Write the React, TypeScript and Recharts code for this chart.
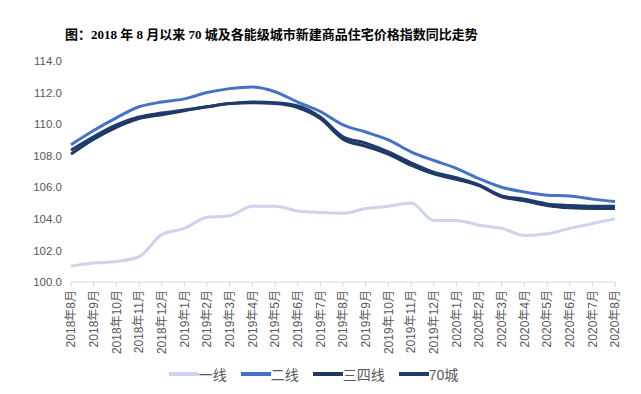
import React from "react";
import { Legend, Line, LineChart, XAxis, YAxis } from "recharts";

const months = [
  "2018年8月", "2018年9月", "2018年10月", "2018年11月", "2018年12月",
  "2019年1月", "2019年2月", "2019年3月", "2019年4月", "2019年5月",
  "2019年6月", "2019年7月", "2019年8月", "2019年9月", "2019年10月",
  "2019年11月", "2019年12月", "2020年1月", "2020年2月", "2020年3月",
  "2020年4月", "2020年5月", "2020年6月", "2020年7月", "2020年8月",
];

const tier1 = [
  101.0, 101.2, 101.3, 101.6, 103.0, 103.4, 104.1, 104.2, 104.8, 104.8,
  104.5, 104.4, 104.35, 104.65, 104.8, 105.0, 103.9, 103.9, 103.6, 103.4,
  102.95, 103.05, 103.4, 103.7, 104.0,
];

const tier2 = [
  108.7, 109.6, 110.4, 111.1, 111.4, 111.6, 112.0, 112.25, 112.35, 112.05,
  111.4, 110.8, 109.95, 109.5, 109.0, 108.25, 107.7, 107.2, 106.55, 106.0,
  105.7, 105.5, 105.45, 105.25, 105.1,
];

const tier34 = [
  108.1, 109.05, 109.8, 110.35, 110.6, 110.85, 111.1, 111.3, 111.35, 111.3,
  111.05, 110.35, 109.05, 108.6, 108.1, 107.4, 106.85, 106.5, 106.1, 105.4,
  105.15, 104.85, 104.7, 104.65, 104.65,
];

const city70 = [
  108.35, 109.2, 109.95, 110.45, 110.7, 110.9, 111.1, 111.3, 111.4, 111.35,
  111.15, 110.45, 109.2, 108.8, 108.25, 107.55, 106.95, 106.6, 106.15, 105.45,
  105.25, 104.95, 104.85, 104.8, 104.8,
];

const yTicks = [100, 102, 104, 106, 108, 110, 112, 114];

const series = [
  { key: "tier1", name: "一线", color: "#cdd3ee" },
  { key: "tier2", name: "二线", color: "#4472c4" },
  { key: "tier34", name: "三四线", color: "#203864" },
  { key: "city70", name: "70城", color: "#1f3a6e" },
];

const data = months.map((month, i) => ({
  month,
  tier1: tier1[i],
  tier2: tier2[i],
  tier34: tier34[i],
  city70: city70[i],
}));

const labelFont = "'Liberation Sans', Arial, 'Noto Sans CJK SC', sans-serif";

function MonthTick(props: any) {
  const { x, y, payload } = props;
  const half = payload.offset || 0;
  const last = payload.index === months.length - 1;
  return (
    <g>
      <line x1={x - half} y1={y - 8} x2={x - half} y2={y - 3} stroke="#d9d9d9" />
      {last && <line x1={x + half} y1={y - 8} x2={x + half} y2={y - 3} stroke="#d9d9d9" />}
      <text
        x={x}
        y={y}
        transform={`rotate(-90, ${x}, ${y})`}
        textAnchor="end"
        dy="0.35em"
        fontSize={12}
        fill="#595959"
        fontFamily={labelFont}
      >
        {payload.value}
      </text>
    </g>
  );
}

function LegendRow() {
  return (
    <div style={{ display: "flex", justifyContent: "center", alignItems: "center", gap: 14, paddingLeft: 12 }}>
      {series.map(s => (
        <div key={s.key} style={{ display: "flex", alignItems: "center" }}>
          <div style={{ width: 30, height: 3.5, background: s.color }} />
          <span style={{ color: "#595959", fontSize: 14, fontFamily: labelFont }}>{s.name}</span>
        </div>
      ))}
    </div>
  );
}

export default function App() {
  return (
    <div style={{ position: "relative", width: 641, height: 394, background: "#fff" }}>
      <style>{"body{margin:0}"}</style>
      <div
        style={{
          position: "absolute",
          left: 65,
          top: 24,
          fontFamily: "'Liberation Serif', 'Noto Sans CJK SC', serif",
          fontWeight: 700,
          fontSize: 13,
          color: "#000",
          whiteSpace: "nowrap",
          zIndex: 2,
        }}
      >
        图：2018 年 8 月以来 70 城及各能级城市新建商品住宅价格指数同比走势
      </div>
      <LineChart width={641} height={394} data={data} margin={{ top: 61, right: 26, bottom: 0, left: 0 }}>
        <XAxis
          dataKey="month"
          interval={0}
          height={82}
          tickLine={false}
          axisLine={{ stroke: "#d9d9d9" }}
          tick={<MonthTick />}
        />
        <YAxis
          width={71}
          domain={[100, 114]}
          ticks={yTicks}
          axisLine={false}
          tickLine={false}
          tickMargin={3}
          tickFormatter={(v: number) => v.toFixed(1)}
          tick={{ fontSize: 11.5, fill: "#595959", fontFamily: labelFont }}
        />
        <Legend verticalAlign="bottom" height={30} content={<LegendRow />} />
        {series.map(s => (
          <Line
            key={s.key}
            type="monotone"
            dataKey={s.key}
            name={s.name}
            stroke={s.color}
            strokeWidth={3}
            dot={false}
            isAnimationActive={false}
          />
        ))}
      </LineChart>
    </div>
  );
}
